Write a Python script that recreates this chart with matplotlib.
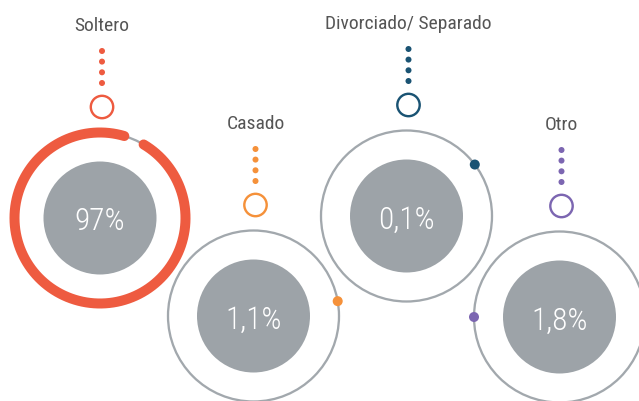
import numpy as np
import matplotlib
matplotlib.use("Agg")
import matplotlib.pyplot as plt
from matplotlib.patches import Circle

# ---- data ----
categories = ["Soltero", "Casado", "Divorciado/ Separado", "Otro"]
values = [97, 1.1, 0.1, 1.8]
value_labels = ["97%", "1,1%", "0,1%", "1,8%"]
colors = ["#EE5B40", "#F5913A", "#1A5373", "#7C66B1"]

# ---- layout (pixel units) ----
W, H = 639, 402
centers_x = [100, 253.5, 406.5, 559.5]
centers_y = [219, 317, 217, 318]
marker_angle = [None, 80, 53, 270]   # decorative dot position (deg clockwise from top)
R_RING = 85.5
R_INNER = 56.5
RING_GRAY = "#A2A8AD"
INNER_GRAY = "#9DA3A8"
LABEL_COL = "#555555"

fig = plt.figure(figsize=(W / 100, H / 100), dpi=100)
ax = fig.add_axes([0, 0, 1, 1])
ax.set_xlim(0, W)
ax.set_ylim(H, 0)
ax.axis("off")

px = 72 / 100  # points per pixel

def pt(angle_deg, r, cx, cy):
    a = np.deg2rad(angle_deg)
    return cx + r * np.sin(a), cy - r * np.cos(a)

fam = ["Roboto Condensed", "Archivo Narrow", "Barlow Semi Condensed",
       "Liberation Sans Narrow", "DejaVu Sans"]

for i, cat in enumerate(categories):
    cx, cy = centers_x[i], centers_y[i]
    col = colors[i]
    # thin gray ring
    ax.add_patch(Circle((cx, cy), R_RING, fill=False, ec=RING_GRAY, lw=2.3 * px, zorder=2))
    # inner gray disc
    ax.add_patch(Circle((cx, cy), R_INNER, fc=INNER_GRAY, ec="none", zorder=2))
    ax.text(cx, cy + 3, value_labels[i], ha="center", va="center", color="white",
            fontsize=22.5, family=fam, fontweight="light", zorder=5)
    if values[i] > 50:
        # thick progress arc
        lw_px = 10
        cap = np.rad2deg((lw_px / 2) / R_RING)
        start = 29
        end = start + values[i] / 100 * 360
        th = np.linspace(start + 0.5 * cap, end - 0.5 * cap, 400)
        xs, ys = pt(th, R_RING, cx, cy)
        ax.plot(xs, ys, color=col, lw=lw_px * px, solid_capstyle="round", zorder=3)
    else:
        mx, my = pt(marker_angle[i], R_RING, cx, cy)
        ax.add_patch(Circle((mx, my), 5, fc=col, ec="none", zorder=4))
    # small hollow circle
    sx = cx + 2
    ax.add_patch(Circle((sx, cy - 111), 11.2, fill=False, ec=col, lw=2.4 * px, zorder=3))
    # dotted connector
    for off in [135, 145.7, 156.4, 167]:
        ax.add_patch(Circle((sx, cy - off), 3.0, fc=col, ec="none", zorder=3))
    # category label
    ax.text(sx, cy - 193, cat, ha="center", va="center", color=LABEL_COL,
            fontsize=14, family=fam, zorder=5)

fig.savefig("out.png", dpi=100)
